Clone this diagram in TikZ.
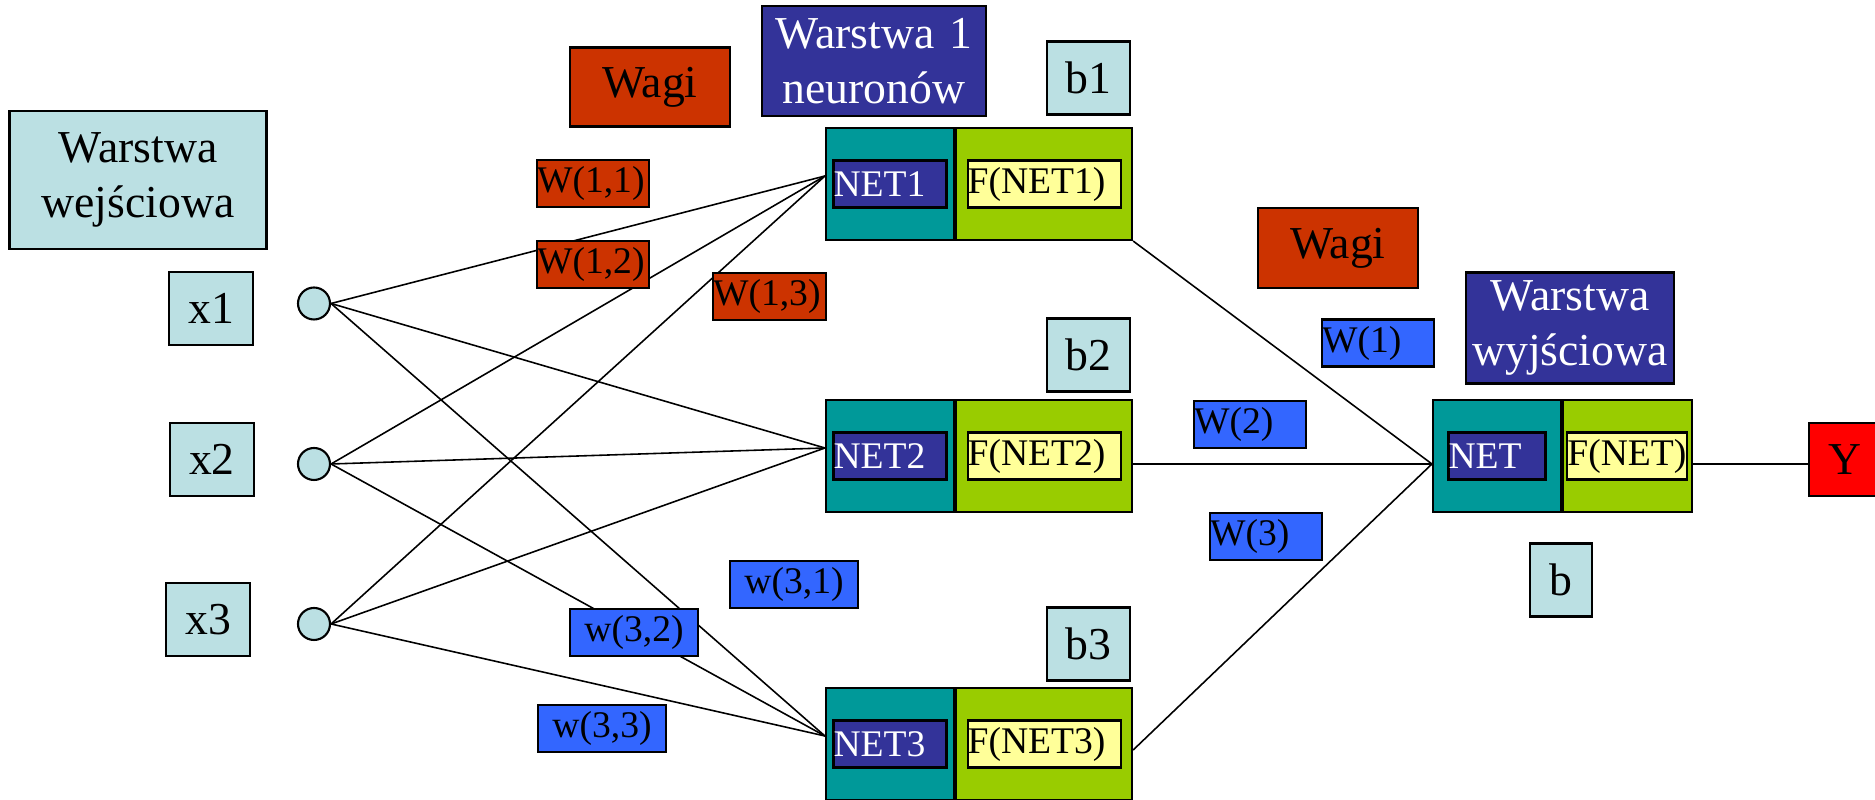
\documentclass[tikz,border=0pt]{standalone}
\usepackage{fontspec}
\setmainfont{Liberation Serif}
\usetikzlibrary{calc,positioning}
\definecolor{inputFill}{RGB}{187,224,227}
\definecolor{wagiFill}{RGB}{204,51,0}
\definecolor{layerFill}{RGB}{51,51,153}
\definecolor{netFill}{RGB}{0,153,153}
\definecolor{funFill}{RGB}{153,204,0}
\definecolor{funLabelFill}{RGB}{255,255,153}
\definecolor{weightBlue}{RGB}{51,102,255}
\definecolor{outFill}{RGB}{255,0,0}
\newcommand{\LabelFontL}{\fontsize{13}{15.8}\selectfont}
\newcommand{\LabelFontS}{\fontsize{10.7}{12.5}\selectfont}
\tikzset{
  link/.style={draw=black, line width=0.45pt},
  plainbox/.style={
    draw=black,
    line width=0.6pt,
    inner sep=0pt,
    align=center,
    font=\LabelFontL
  },
  inbox/.style={plainbox, fill=inputFill},
  wagibox/.style={plainbox, fill=wagiFill},
  layerbox/.style={plainbox, fill=layerFill, text=white},
  netpart/.style={
    draw=black,
    line width=0.6pt,
    fill=netFill,
    minimum width=1.28cm,
    minimum height=1.12cm,
    inner sep=0pt
  },
  funpart/.style={
    draw=black,
    line width=0.6pt,
    fill=funFill,
    minimum height=1.12cm,
    inner sep=0pt
  },
  smallbox/.style={
    draw=black,
    line width=0.6pt,
    minimum height=0.47cm,
    inner sep=0pt,
    font=\LabelFontS
  },
  netlabel/.style={smallbox, fill=layerFill, text=white, align=left},
  funlabel/.style={smallbox, fill=funLabelFill, align=left},
  weightred/.style={smallbox, fill=wagiFill, align=left},
  weightblue/.style={smallbox, fill=weightBlue, align=left},
  neuron/.style={
    circle,
    draw=black,
    line width=0.6pt,
    fill=inputFill,
    minimum size=0.32cm,
    inner sep=0pt
  }
}

\begin{document}
\begin{tikzpicture}[x=1cm,y=1cm]
  \useasboundingbox (0,0) rectangle (18.75,8);

  % headers
  \node[inbox, text width=2.57cm, minimum height=1.38cm] (inlayer) at (1.38,6.20) {Warstwa\\wejściowa};
  \node[wagibox, minimum width=1.60cm, minimum height=0.79cm] (wagiA) at (6.50,7.13) {Wagi};
  \node[layerbox, text width=2.24cm, minimum height=1.10cm] (layer1) at (8.74,7.39) {Warstwa 1\\neuronów};
  \node[wagibox, minimum width=1.60cm, minimum height=0.80cm] (wagiB) at (13.38,5.52) {Wagi};
  \node[layerbox, text width=2.08cm, minimum height=1.11cm] (outlayer) at (15.70,4.72) {Warstwa\\wyjściowa};

  % inputs
  \node[inbox, minimum width=0.84cm, minimum height=0.73cm] (x1) at (2.11,4.915) {x1};
  \node[inbox, minimum width=0.84cm, minimum height=0.73cm] (x2) at (2.12,3.407) {x2};
  \node[inbox, minimum width=0.84cm, minimum height=0.73cm] (x3) at (2.08,1.807) {x3};
  \node[neuron] (c1) at (3.14,4.965) {};
  \node[neuron] (c2) at (3.14,3.36) {};
  \node[neuron] (c3) at (3.14,1.76) {};

  % hidden layer
  \foreach \i/\y/\by in {1/6.16/7.22, 2/3.44/4.45, 3/0.56/1.56} {
    \node[netpart] (blk\i) at (8.90,\y) {};
    \node[funpart, minimum width=1.76cm, anchor=west] (fblk\i) at (blk\i.east) {};
    \node[netlabel, text width=1.13cm] (net\i) at (blk\i) {NET\i};
    \node[funlabel, text width=1.53cm] (fun\i) at (fblk\i) {F(NET\i)};
    \node[inbox, minimum width=0.83cm, minimum height=0.73cm] (b\i) at (10.885,\by) {b\i};
    \coordinate (in\i) at ([yshift=0.8mm]blk\i.west);
  }

  % output neuron
  \node[netpart] (oblk) at (14.97,3.44) {};
  \node[funpart, minimum width=1.285cm, anchor=west] (ofblk) at (oblk.east) {};
  \node[netlabel, text width=0.97cm] (onet) at (oblk) {NET};
  \node[funlabel, text width=1.20cm] (ofun) at (ofblk) {F(NET)};
  \node[inbox, minimum width=0.62cm, minimum height=0.73cm] (bout) at (15.61,2.20) {b};
  \node[plainbox, fill=outFill, minimum width=0.71cm, minimum height=0.73cm] (yout) at (18.445,3.405) {Y};
  \coordinate (oin) at ([yshift=-0.8mm]oblk.west);
  \coordinate (oout) at ([yshift=-0.8mm]ofblk.east);

  % connections
  \foreach \i in {1,2,3} {
    \foreach \j in {1,2,3} {
      \draw[link] (c\i.east) -- (in\j);
    }
  }
  \draw[link] (fblk1.south east) -- (oin);
  \draw[link] (fblk2.east |- oin) -- (oin);
  \draw[link] ([yshift=-0.6mm]fblk3.east) -- (oin);
  \draw[link] (oout) -- (oout -| yout.west);

  % weights
  \node[weightred, text width=1.12cm] (w11) at (5.93,6.165) {W(1,1)};
  \node[weightred, text width=1.12cm] (w12) at (5.93,5.355) {W(1,2)};
  \node[weightred, text width=1.13cm] (w13) at (7.695,5.035) {W(1,3)};
  \node[weightblue, text width=1.28cm, align=center] (w31) at (7.94,2.153) {w(3,1)};
  \node[weightblue, text width=1.28cm, align=center] (w32) at (6.34,1.675) {w(3,2)};
  \node[weightblue, text width=1.28cm, align=center] (w33) at (6.02,0.717) {w(3,3)};
  \node[weightblue, text width=1.12cm] (wo1) at (13.78,4.57) {W(1)};
  \node[weightblue, text width=1.12cm] (wo2) at (12.50,3.755) {W(2)};
  \node[weightblue, text width=1.12cm] (wo3) at (12.66,2.637) {W(3)};
\end{tikzpicture}
\end{document}
